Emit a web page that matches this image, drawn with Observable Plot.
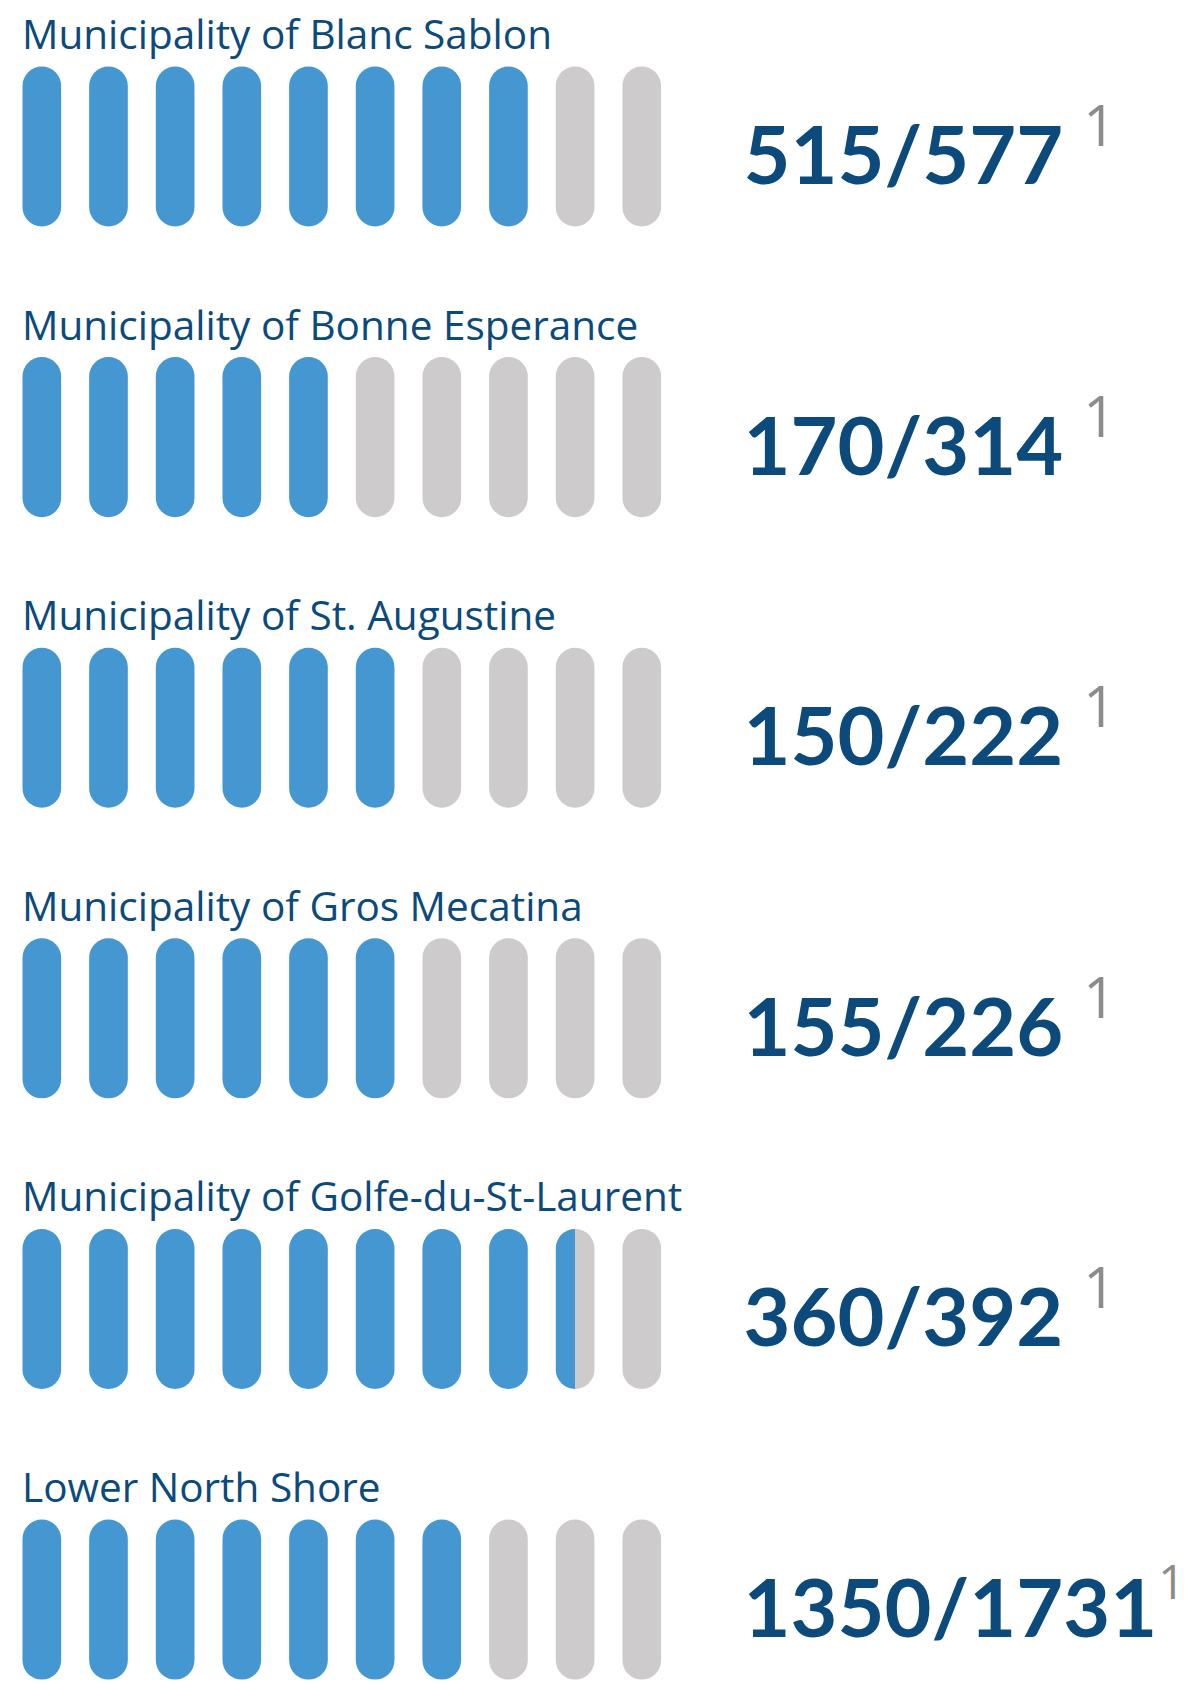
<!DOCTYPE html>
<html>
<head>
<meta charset="utf-8">
<script src="https://cdn.jsdelivr.net/npm/d3@7"></script>
<script src="https://cdn.jsdelivr.net/npm/@observablehq/plot@0.6"></script>
<style>
  html, body { margin: 0; padding: 0; background: #ffffff; }
  #chart svg { display: block; }
</style>
</head>
<body>
<div id="chart"></div>
<script>
// ---- Data ----
const categories = [
  "Municipality of Blanc Sablon",
  "Municipality of Bonne Esperance",
  "Municipality of St. Augustine",
  "Municipality of Gros Mecatina",
  "Municipality of Golfe-du-St-Laurent",
  "Lower North Shore"
];
const counts = [515, 170, 150, 155, 360, 1350];
const totals = [577, 314, 222, 226, 392, 1731];
// number of pills shown filled (as drawn in the picture)
const filledPills = [8, 5, 6, 6, 8.5, 7];
const notes = ["1", "1", "1", "1", "1", "1"];
const pillSlots = [0, 1, 2, 3, 4, 5, 6, 7, 8, 9];

// ---- Styles ----
const BLUE = "#4597d1";
const GRAY = "#cdcbcc";
const INK = "#0b4a7b";
const NOTE = "#8c8c8c";
const WIDTH = 1188;

const pills = categories.flatMap((c, r) =>
  pillSlots.map(i => ({
    category: c,
    slot: i,
    frac: Math.max(0, Math.min(1, filledPills[r] - i))
  }))
);
const rows = categories.map((c, r) => ({
  category: c,
  label: c,
  value: `${counts[r]}/${totals[r]}`,
  note: notes[r]
}));

const gradId = f => `pill-frac-${Math.round(f * 1000)}`;
const fillOf = d => d.frac >= 1 ? BLUE : d.frac <= 0 ? GRAY : `url(#${gradId(d.frac)})`;

const chart = Plot.plot({
  width: WIDTH,
  height: 1683,
  marginLeft: 22.5,
  marginRight: 526.9,
  marginTop: 66.5,
  marginBottom: 3.4,
  x: { type: "band", domain: pillSlots, paddingInner: 0.42, paddingOuter: 0, round: false, axis: null },
  y: { type: "band", domain: categories, paddingInner: 0.4494, paddingOuter: 0, round: false, axis: null },
  color: { type: "identity" },
  style: { background: "#ffffff", fontFamily: "'Open Sans', sans-serif" },
  marks: [
    Plot.cell(pills, { x: "slot", y: "category", fill: fillOf, rx: 19.3, inset: 0 }),
    Plot.text(rows, {
      y: "category", text: "label", frameAnchor: "left", textAnchor: "start",
      lineAnchor: "bottom", dy: -98, dx: -1, fill: INK, fontSize: 40.5,
      fontFamily: "'Open Sans', sans-serif"
    }),
    Plot.text(rows, {
      y: "category", text: "value", frameAnchor: "right", textAnchor: "start",
      lineAnchor: "bottom", dy: 37, dx: 82, fill: INK, fontSize: 81, fontWeight: 700,
      fontFamily: "Lato, sans-serif"
    })
  ]
});

document.getElementById("chart").appendChild(chart);

// gradients for partially filled pills
const svg = d3.select(chart);
const defs = svg.insert("defs", ":first-child");
const fracs = Array.from(new Set(pills.filter(d => d.frac > 0 && d.frac < 1).map(d => d.frac)));
for (const f of fracs) {
  const g = defs.append("linearGradient").attr("id", gradId(f))
    .attr("x1", 0).attr("x2", 1).attr("y1", 0).attr("y2", 0);
  g.append("stop").attr("offset", f).attr("stop-color", BLUE);
  g.append("stop").attr("offset", f).attr("stop-color", GRAY);
}

// footnote markers as superscripts on the value labels
const NOTE_SIZE = 57;
const NOTE_GAP = 20;          // preferred gap after the number
const NOTE_EM = 0.572;        // advance of the digit, in em
const EDGE = WIDTH - 3;       // keep the marker inside the picture
const valueTexts = svg.selectAll("text").filter(function () {
  return rows.some(r => r.value === this.textContent);
});
valueTexts.each(function () {
  const txt = this.textContent;
  const row = rows.find(r => r.value === txt);
  const endX = this.getCTM().e + this.getComputedTextLength();
  const room = EDGE - endX;
  let size = NOTE_SIZE;
  let dx = Math.min(NOTE_GAP, room - NOTE_EM * size);
  if (dx < 1) {
    dx = 1;
    size = Math.min(NOTE_SIZE, (room - dx) / NOTE_EM);
  }
  d3.select(this).append("tspan")
    .attr("dx", dx)
    .attr("dy", -38)
    .attr("font-size", size)
    .attr("font-weight", 500)
    .attr("font-family", "'Open Sans', sans-serif")
    .attr("fill", NOTE)
    .text(row.note);
});
</script>
</body>
</html>
